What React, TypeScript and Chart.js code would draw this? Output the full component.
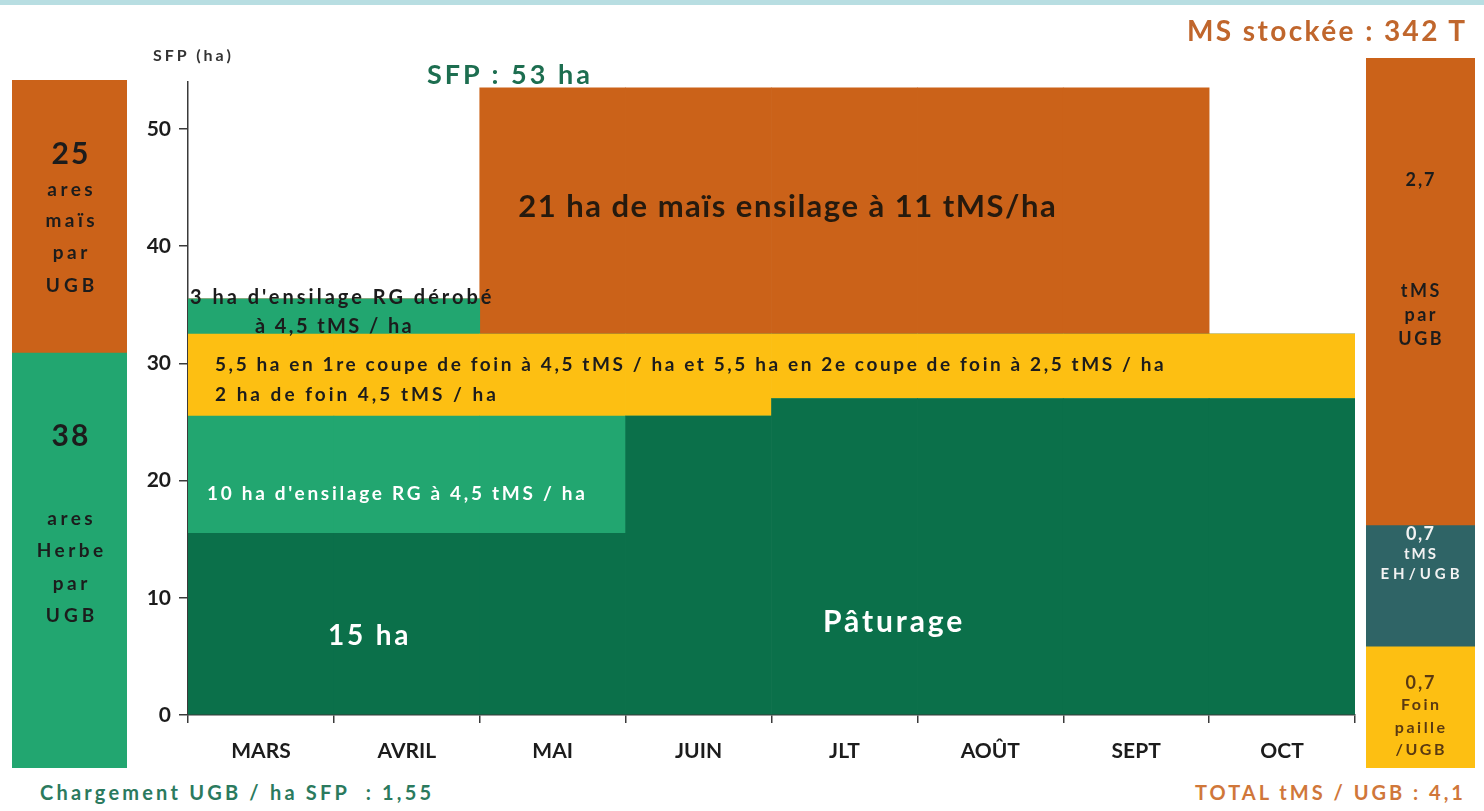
import React, { useEffect, useRef } from "react";
import { Chart, registerables } from "chart.js";

Chart.register(...registerables);

// ---------- DATA ----------
const months = ["MARS", "AVRIL", "MAI", "JUIN", "JLT", "AOÛT", "SEPT", "OCT"];
const paturage = [15.5, 15.5, 15.5, 25.5, 27, 27, 27, 27];
const ensilageRG = [10, 10, 10, 0, 0, 0, 0, 0];
const foin = [7, 7, 7, 7, 5.5, 5.5, 5.5, 5.5];
const rgDerobe = [3, 3, 0, 0, 0, 0, 0, 0];
const maisEnsilage = [0, 0, 21, 21, 21, 21, 21, 0];
const yTicks = [0, 10, 20, 30, 40, 50];

const aresMaisParUGB = [25];
const aresHerbeParUGB = [38];

const tmsMaisParUGB = [2.7];
const tmsEHParUGB = [0.7];
const foinPailleParUGB = [0.7];

// ---------- STYLE ----------
const C = {
  darkGreen: "#0b704a",
  lightGreen: "#22a670",
  yellow: "#fdbf12",
  orange: "#cb6219",
  teal: "#2f6466",
  axis: "#3a3a3a",
  text: "#1c1c1c",
};
const FONT = "Lato, 'Open Sans', sans-serif";

function useChart(ref: React.RefObject<HTMLCanvasElement>, makeConfig: () => any) {
  useEffect(() => {
    if (!ref.current) return;
    const chart = new Chart(ref.current, makeConfig());
    return () => chart.destroy();
  }, []);
}

function MainChart() {
  const ref = useRef<HTMLCanvasElement>(null);
  useChart(ref, () => {
    const ds = (label: string, data: number[], color: string) => ({
      label,
      data,
      backgroundColor: color,
      borderWidth: 0,
      categoryPercentage: 1,
      barPercentage: 1,
    });
    return {
      type: "bar",
      data: {
        labels: months,
        datasets: [
          ds("Pâturage", paturage, C.darkGreen),
          ds("Ensilage RG", ensilageRG, C.lightGreen),
          ds("Foin", foin, C.yellow),
          ds("Ensilage RG dérobé", rgDerobe, C.lightGreen),
          ds("Maïs ensilage", maisEnsilage, C.orange),
        ],
      },
      options: {
        responsive: false,
        animation: false,
        layout: { padding: { top: 42, right: 15, left: 0, bottom: 0 } },
        plugins: { legend: { display: false }, tooltip: { enabled: false } },
        scales: {
          x: {
            stacked: true,
            grid: {
              offset: true,
              drawOnChartArea: false,
              drawTicks: true,
              tickLength: 8,
              color: C.axis,
              lineWidth: 1.5,
            },
            border: { display: true, color: C.axis, width: 1.5 },
            ticks: {
              font: { family: FONT, weight: "bold", size: 21 },
              color: C.text,
              padding: 16,
            },
            afterFit: (s: any) => {
              s.height = 65;
            },
          },
          y: {
            stacked: true,
            min: 0,
            max: 54,
            afterBuildTicks: (s: any) => {
              s.ticks = yTicks.map((v) => ({ value: v }));
            },
            grid: {
              drawOnChartArea: false,
              drawTicks: true,
              tickLength: 9,
              color: C.axis,
              lineWidth: 1.5,
            },
            border: { display: true, color: C.axis, width: 1.5 },
            ticks: {
              font: { family: FONT, weight: "bold", size: 21 },
              color: C.text,
              padding: 8,
            },
            afterFit: (s: any) => {
              s.width = 68;
            },
          },
        },
      },
    };
  });
  return <canvas ref={ref} width={1250} height={740} style={{ position: "absolute", left: 120, top: 40 }} />;
}

function SideBar(props: {
  left: number;
  top: number;
  width: number;
  height: number;
  series: { label: string; data: number[]; color: string }[];
}) {
  const ref = useRef<HTMLCanvasElement>(null);
  useChart(ref, () => {
    const total = props.series.reduce((a, s) => a + s.data[0], 0);
    return {
      type: "bar",
      data: {
        labels: [""],
        datasets: props.series.map((s) => ({
          label: s.label,
          data: s.data,
          backgroundColor: s.color,
          borderWidth: 0,
          categoryPercentage: 1,
          barPercentage: 1,
        })),
      },
      options: {
        responsive: false,
        animation: false,
        layout: { padding: 0 },
        plugins: { legend: { display: false }, tooltip: { enabled: false } },
        scales: {
          x: { stacked: true, display: false },
          y: { stacked: true, display: false, min: 0, max: total },
        },
      },
    };
  });
  return (
    <canvas
      ref={ref}
      width={props.width}
      height={props.height}
      style={{ position: "absolute", left: props.left, top: props.top }}
    />
  );
}

function T(props: {
  x: number;
  y: number;
  size: number;
  color?: string;
  center?: boolean;
  ls?: number;
  children: React.ReactNode;
}) {
  const ls = props.ls ?? 0;
  return (
    <div
      style={{
        position: "absolute",
        left: props.x,
        top: props.y,
        transform: props.center ? "translate(-50%,-50%)" : "translate(0,-50%)",
        fontFamily: FONT,
        fontWeight: 700,
        fontSize: props.size,
        color: props.color || C.text,
        whiteSpace: "pre",
        letterSpacing: ls,
        paddingLeft: props.center ? ls : 0,
        lineHeight: 1,
      }}
    >
      {props.children}
    </div>
  );
}

export default function App() {
  useEffect(() => {
    document.body.style.margin = "0";
  }, []);
  const dark = "#1c1c1c";
  const brown = "#5a3a12";
  const light = "#f2f2f2";
  return (
    <div style={{ position: "relative", width: 1484, height: 811, background: "#ffffff", overflow: "hidden" }}>
      <div style={{ position: "absolute", left: 0, top: 0, width: 1484, height: 5, background: "#b8dee2" }} />

      <SideBar
        left={12}
        top={80}
        width={115}
        height={688}
        series={[
          { label: "ares Herbe par UGB", data: aresHerbeParUGB, color: C.lightGreen },
          { label: "ares maïs par UGB", data: aresMaisParUGB, color: C.orange },
        ]}
      />
      <SideBar
        left={1366}
        top={58}
        width={109}
        height={710}
        series={[
          { label: "Foin paille /UGB", data: foinPailleParUGB, color: C.yellow },
          { label: "tMS EH/UGB", data: tmsEHParUGB, color: C.teal },
          { label: "tMS par UGB", data: tmsMaisParUGB, color: C.orange },
        ]}
      />
      <MainChart />

      {/* titles */}
      <T x={153} y={55} size={16} ls={3} color="#333">SFP (ha)</T>
      <T x={427} y={73} size={27} ls={3} color="#1d6e50">SFP : 53 ha</T>
      <T x={1187} y={30} size={28} ls={2.4} color="#c0662c">MS stockée : 342 T</T>

      {/* main chart labels */}
      <T x={787} y={205} size={31} ls={1.5} center color="#261a0e">21 ha de maïs ensilage à 11 tMS/ha</T>
      <T x={190} y={296} size={20} ls={3}>3 ha d'ensilage RG dérobé</T>
      <T x={255} y={325} size={20} ls={2.4}>à 4,5 tMS / ha</T>
      <T x={215} y={363} size={19} ls={2.6}>5,5 ha en 1re coupe de foin à 4,5 tMS / ha et 5,5 ha en 2e coupe de foin à 2,5 tMS / ha</T>
      <T x={215} y={393} size={19} ls={3}>2 ha de foin 4,5 tMS / ha</T>
      <T x={207} y={492} size={19} ls={2.7} color="#ffffff">10 ha d'ensilage RG à 4,5 tMS / ha</T>
      <T x={328} y={634} size={28} ls={2.8} color="#ffffff">15 ha</T>
      <T x={823} y={620} size={30} ls={2.9} color="#ffffff">Pâturage</T>

      {/* left bar labels */}
      <T x={70} y={152} size={30} ls={2} center color={dark}>25</T>
      <T x={70} y={188} size={19} ls={3.5} center color={dark}>ares</T>
      <T x={70} y={219} size={19} ls={3.5} center color={dark}>maïs</T>
      <T x={70} y={251} size={19} ls={3.5} center color={dark}>par</T>
      <T x={70} y={284} size={19} ls={4} center color={dark}>UGB</T>
      <T x={70} y={434} size={30} ls={2} center color={dark}>38</T>
      <T x={70} y={517} size={19} ls={3.5} center color={dark}>ares</T>
      <T x={70} y={549} size={19} ls={3.5} center color={dark}>Herbe</T>
      <T x={70} y={582} size={19} ls={3.5} center color={dark}>par</T>
      <T x={70} y={614} size={19} ls={4} center color={dark}>UGB</T>

      {/* right bar labels */}
      <T x={1420} y={179} size={18} ls={2} center>2,7</T>
      <T x={1420} y={290} size={18} ls={2.5} center>tMS</T>
      <T x={1420} y={314} size={18} ls={2.5} center>par</T>
      <T x={1420} y={338} size={18} ls={2.5} center>UGB</T>
      <T x={1420} y={533} size={18} ls={1.5} center color={light}>0,7</T>
      <T x={1420} y={553} size={15} ls={2} center color={light}>tMS</T>
      <T x={1420} y={573} size={15} ls={4} center color={light}>EH/UGB</T>
      <T x={1420} y={682} size={18} ls={2} center color={brown}>0,7</T>
      <T x={1420} y={704} size={16} ls={2.5} center color={brown}>Foin</T>
      <T x={1420} y={727} size={16} ls={2.5} center color={brown}>paille</T>
      <T x={1420} y={749} size={16} ls={2.5} center color={brown}>/UGB</T>

      {/* footers */}
      <T x={40} y={792} size={20} ls={3.2} color="#2b7a5e">Chargement UGB / ha SFP  : 1,55</T>
      <T x={1195} y={792} size={20} ls={3} color="#d0773a">TOTAL tMS / UGB : 4,1</T>
    </div>
  );
}
